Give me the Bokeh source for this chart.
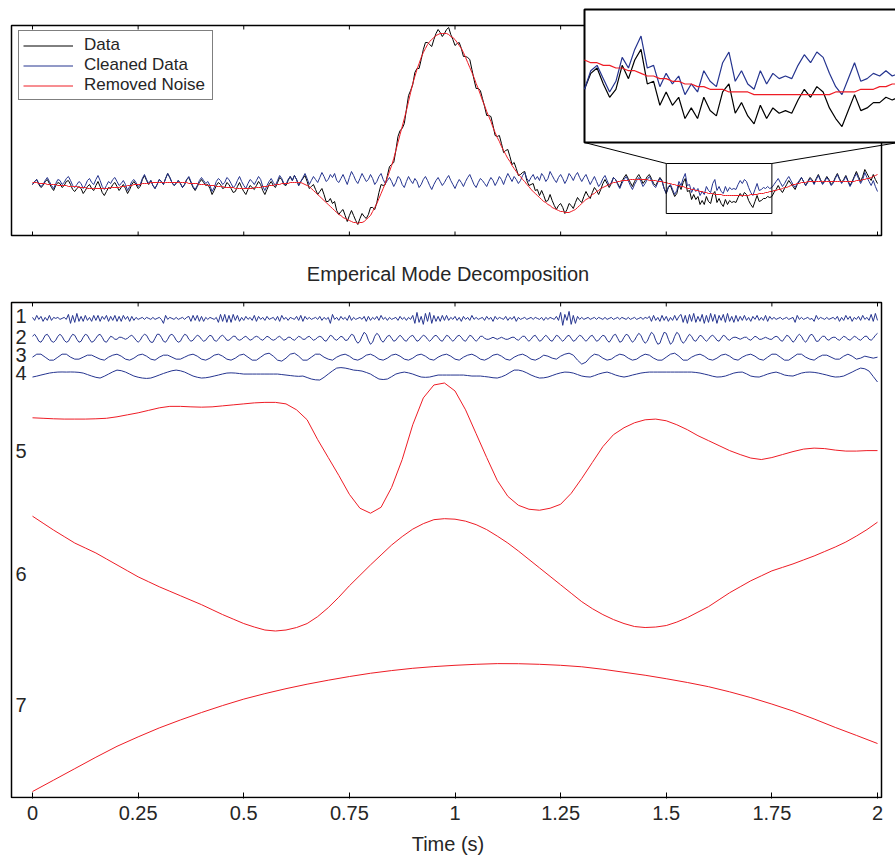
import numpy as np
from bokeh.plotting import figure
from bokeh.layouts import column
from bokeh.models import Legend, LegendItem, FixedTicker
from bokeh.embed import file_html
from bokeh.resources import INLINE
from bokeh.core.properties import value

FONT = "Liberation Sans"
BLUE = "#25348f"
RED = "#ee1c25"
INK = "#262626"

# ---------------- data (pixel-like units) ----------------
# smooth trend ("Removed Noise"), sampled every 0.005 s
TREND = [
    0, 0, 0, -1, -1, -1, -1, -2, -2, -2, -2, -2, -3, -3, -3, -3, -3, -4, -4, -4, -4,
    -4, -5, -5, -5, -5, -6, -6, -6, -6, -6, -6, -6, -6, -6, -6, -6, -5, -5, -5, -5,
    -5, -4, -4, -4, -3, -3, -3, -2, -2, -2, -2, -1, -1, -1, -1, 0, 0, 0, 0, 0,
    0, 0, 0, 0, 0, 0, 0, 0, 0, 0, 0, 0, 0, -1, -1, -1, -1, -1, -2, -2,
    -2, -2, -3, -3, -3, -3, -4, -4, -4, -4, -5, -5, -5, -5, -5, -6, -6, -6, -6, -6,
    -6, -6, -6, -6, -5, -5, -5, -5, -4, -4, -4, -3, -3, -3, -2, -2, -2, -1, -1, -1,
    -1, 0, 0, 0, 0, 0, 0, -1, -2, -3, -4, -6, -8, -10, -12, -14, -16, -18, -20, -22,
    -24, -26, -28, -30, -32, -33, -35, -36, -37, -38, -39, -40, -40, -41, -40, -40, -39, -37, -35, -33,
    -29, -25, -21, -16, -11, -6, -1, 5, 11, 17, 24, 32, 40, 48, 56, 64, 72, 81, 90, 99,
    106, 113, 119, 125, 130, 134, 138, 141, 143, 145, 147, 148, 149, 149, 149, 149, 148, 146, 145, 143,
    140, 137, 134, 130, 125, 120, 115, 110, 105, 99, 94, 88, 82, 77, 71, 66, 61, 55, 50, 45,
    41, 36, 32, 28, 24, 21, 17, 14, 11, 8, 6, 3, 1, -2, -4, -7, -9, -11, -13, -15,
    -17, -19, -20, -22, -23, -25, -26, -27, -28, -29, -29, -30, -30, -30, -29, -28, -27, -25, -23, -21,
    -19, -17, -16, -14, -12, -11, -9, -8, -6, -5, -4, -3, -2, -1, 0, 0, 1, 1, 2, 2,
    2, 2, 3, 3, 3, 3, 3, 3, 3, 3, 3, 2, 2, 2, 2, 1, 1, 1, 0, 0,
    -1, -1, -2, -2, -3, -3, -4, -4, -5, -6, -6, -7, -7, -8, -8, -9, -9, -10, -10, -11,
    -11, -11, -12, -12, -12, -12, -13, -13, -13, -13, -13, -13, -13, -13, -13, -13, -13, -13, -13, -12,
    -12, -12, -12, -11, -11, -11, -10, -10, -9, -9, -8, -8, -7, -7, -6, -5, -5, -4, -3, -2,
    -2, -1, -1, 0, 0, 0, 1, 1, 1, 1, 1, 1, 1, 1, 1, 1, 1, 1, 1, 1,
    1, 1, 1, 1, 1, 1, 1, 1, 1, 2, 2, 2, 3, 3, 4, 4, 5, 6, 7, 8,
]
# cleaned data (noise part), sampled every 0.005 s
CLEANED = [
    -2, 1, 3, -1, -4, -2, 2, 5, 1, -3, -6, -1, 3, 2, -2, 0, 4, 6, 2, -3,
    -5, -2, 1, -1, -6, -3, 2, 4, 0, -2, 3, 7, 2, -4, -7, -3, 1, -1, 3, 5,
    1, -3, -1, 2, -2, -8, -4, 1, 3, 0, -4, -2, 4, 8, 3, -1, 2, -3, -6, -2,
    3, 1, -2, 4, 9, 5, 0, -3, -1, 2, -1, -5, -2, 3, 6, 1, -4, -7, -3, 2,
    5, 2, -1, 1, -3, -9, -5, 1, 4, 2, -2, 0, 5, 3, -1, -5, -3, 2, 6, 1,
    -3, -6, -1, 3, 1, -2, 2, 6, 3, -4, -8, -3, 1, 4, 0, -3, 2, 7, 4, -1,
    -2, 3, 6, 2, 7, 3, -3, 1, 5, 9, 4, -2, 2, 6, 3, 0, 5, 10, 6, 1,
    3, 8, 5, 9, 2, 0, 4, 8, 3, -2, 5, 11, 7, 2, -1, 4, 9, 5, 1, 3,
    8, 4, -2, 1, 6, 9, 3, -1, 2, 5, 1, -4, 0, 6, 4, -2, -5, 1, 6, 2,
    -1, 4, 1, -5, -2, 3, 6, 2, -3, -7, -2, 2, 5, 1, -3, 0, 4, 7, 2, -2,
    -6, -1, 3, 0, -4, 1, 5, 8, 3, -2, -5, 0, 4, 2, -1, -4, 1, 5, 2, -3,
    1, 6, 3, -2, 4, 9, 5, 1, 6, 3, -1, 2, 7, 10, 4, 1, 5, 8, 3, 6,
    2, 9, 6, 1, 4, 11, 7, 3, 0, 5, 8, 4, -1, 3, 9, 6, 2, 7, 10, 5,
    1, 5, 8, 3, -2, 2, 6, 1, -4, -1, 4, 7, 2, -3, 0, 5, 3, -2, -6, -1,
    3, 6, 2, -3, -7, -2, 2, 5, 1, -4, -1, 3, 6, 2, -3, -5, 0, 4, 1, -6,
    -11, -4, -2, -7, -12, -8, 1, -3, 4, 9, -3, -2, -10, -5, -9, -6, -13, -9, -12, -4,
    -8, -10, -1, 3, -8, -4, -9, -11, -4, -9, -5, -7, -6, -7, -2, 2, -1, 3, 1, -5,
    -10, -13, -7, -1, -8, -7, -5, -6, -4, -6, -5,
    -2, 1, 4, 0, -4, -1, 3, 6, 2, -2, -5, -1, 2, 5, 1, -3, 0, 4, 2, -2,
    3, 7, 2, -2, 1, 5, 2, -3, -1, 4, 8, 3, -1, 2, 6, 1, -4, 0, 5, 9,
    4, -1, 3, 10, 5, 1, -3, 2, -4, -9,
]
# intrinsic mode functions
IMF1 = [  # every 0.005 s
    1, -2, 3, -1, 2, -3, 1, -2, 3, -2, 1, 0, 1, -1, 0, 1, -1, 4, -5, 3,
    -4, 5, -3, 2, -3, 3, -2, 1, -3, 3, -2, 3, -3, 2, -1, 3, -3, 2, -2, 3,
    -3, 2, -3, 3, -1, 2, -3, 2, -2, 1, -1, 0, 1, -1, 1, 0, -1, 1, -1, 0,
    1, -1, -5, 3, -1, 1, 0, -1, 1, -1, 0, 1, -1, 1, 2, -3, 3, -2, 3, -3,
    2, -3, 1, -1, 1, 0, -1, 1, -4, 4, -3, 4, -4, 3, -4, 4, -2, 3, -3, 1,
    -2, 2, -1, 1, -2, 3, -3, 2, -1, 1, -2, 2, -1, 0, 1, -2, 2, -3, 3, -1,
    1, -2, 1, 0, -1, 2, -2, 3, -3, 2, -1, 1, -1, 0, 1, -1, 2, -2, 1, -1,
    1, -5, 4, -1, 1, -2, 2, -1, 1, -2, 3, -2, 1, -1, 0, 1, -1, 2, -3, 2,
    -2, 1, -1, 2, -2, 3, -1, 1, -2, 1, -1, 0, 1, -2, 2, -1, 1, -2, 1, -1,
    3, -5, 6, -4, 2, -6, 5, -3, 6, -5, 3, -3, 2, -3, 3, -2, 3, -2, 1, -1,
    2, -2, 1, -3, 2, -1, 1, -2, 3, -1, 1, -1, 0, 1, -2, 2, -1, 1, -3, 2,
    -1, 1, 0, -1, 2, -2, 1, -1, 2, -3, 1, -1, 0, 1, -1, 0, 1, -1, 1, 0,
    -1, 1, -2, 1, -1, 1, 0, -1, 2, -2, 6, -7, 4, -2, 7, -6, 3, -5, 2, -1,
    1, -1, 0, 1, -1, 0, 1, -1, 1, 0, -1, 1, -1, 0, 1, -1, 0, 1, -1, 1,
    0, -1, 1, -1, 0, 1, -1, 0, 1, -1, 1, 0, 2, -3, 3, -2, 1, -3, 3, -2,
    2, -3, 1, -2, 3, -2, 2, 4, -4, 3, -5, 4, -3, 5, -4, 2, -3, 4, -5, 3,
    -4, 5, -3, 4, -5, 3, -2, 4, -4, 5, -3, 2, -4, 3, -3, 2, -2, 3, -2, 1,
    -3, 2, -1, 3, -2, 1, -2, 3, -3, 2, -1, 1, -1, 0, 1, -1, 0, 1, -1, 0,
    1, -4, 3, -1, 1, -1, 0, 1, -1, 0, -3, 3, -1, 1, 0, -1, 1, -1, 0, 1,
    -1, 2, -3, 1, -2, 3, -1, 2, -3, 1, -1, 2, -2, 3, -1, 1, -2, 4, -3, 5, -2,
]
IMF2 = [  # every 0.005 s
    2, 4, 1, -3, -4, -1, 3, 4, 1, -3, -4, -2, 2, 4, 2, -2, -4, -3, 1, 4,
    3, -1, -4, -3, 1, 4, 3, -1, -4, -3, 0, 3, 4, 1, -3, -4, -1, 2, 1, -1,
    -1, 1, 1, 0, -1, 0, 2, 3, 1, -2, -4, -2, 2, 4, 3, -1, -4, -4, 0, 4,
    4, 1, -3, -4, -1, 3, 4, 2, -2, -4, -3, 1, 4, 3, -1, -3, -2, 1, 3, 2,
    -1, -3, -2, 1, 3, 2, -2, -3, -1, 2, 3, 1, -2, -2, 0, 2, 2, -1, -2, -1,
    1, 2, 0, -2, -1, 1, 2, 1, -1, -2, 0, 2, 1, -1, -2, -1, 1, 2, 0, -2,
    -1, 1, 1, -1, -2, 0, 2, 1, -1, -1, 1, 2, 0, -2, -1, 1, 2, 1, -2, -3,
    0, 3, 2, -1, -2, 0, 2, 1, -2, -2, 1, 4, 3, -2, -5, -3, 2, 6, 4, -2,
    -6, -4, 2, 5, 3, -2, -4, -1, 2, 3, 0, -3, -2, 1, 3, 1, -2, -3, 0, 2,
    3, 0, -3, -2, 1, 3, 2, -1, -3, -1, 2, 3, 1, -2, -3, 0, 3, 2, -1, -3,
    -1, 2, 3, 1, -2, -3, 0, 3, 2, -1, -3, -1, 2, 2, 0, -1, -1, 0, 1, 0,
    -1, 0, 1, 0, -1, -1, 0, 1, 1, -1, -2, 0, 2, 2, -1, -3, -1, 2, 3, 0,
    -3, -2, 1, 3, 1, -2, -3, 0, 3, 2, -1, -3, -1, 2, 3, 0, -3, -2, 1, 3,
    2, -1, -3, -1, 2, 3, 0, -3, -2, 1, 3, 2, -2, -4, -1, 3, 4, 0, -4, -3,
    1, 4, 3, -1, -4, -2, 2, 5, 3, -2, -5, -3, 2, 6, 4, -2, -6, -5, 1, 6,
    5, -1, -6, -4, 2, 6, 4, -2, -5, -3, 1, 4, 2, -2, -3, 0, 3, 2, -1, -3,
    -1, 2, 3, 1, -2, -3, 0, 3, 2, -1, -2, 0, 1, 1, 0, -1, 0, 1, 1, -1,
    -2, 0, 2, 1, -1, -1, 0, 1, 0, -1, -1, 1, 2, 1, -2, -3, 0, 3, 2, -1,
    -4, -2, 2, 4, 2, -2, -4, -1, 3, 4, 1, -3, -3, 0, 2, 2, -1, -2, 0, 1,
    1, -1, -2, 0, 2, 1, -1, -2, 0, 2, 1, -1, -2, 0, 2, 2, -1, -2, 0, 3, 5,
]
IMF3 = [  # every 0.01 s
    0, 3, 3, 0, -3, -3, 0, 3, 3, 0, -2, -2, 0, 2, 2, 0, -2, -3, 0, 2,
    3, 1, -2, -3, -1, 2, 3, 1, -2, -3, 0, 2, 2, 0, -2, -2, 0, 2, 3, 1,
    -2, -3, -1, 2, 3, 1, -2, -3, -1, 2, 3, 0, -3, -3, 0, 3, 4, 1, -3, -4,
    -1, 3, 4, 1, -3, -3, 0, 3, 3, 0, -2, -3, 0, 2, 3, 1, -2, -3, -1, 2,
    3, 1, -2, -3, -1, 2, 3, 1, -2, -3, -1, 2, 3, 1, -2, -3, 0, 2, 3, 1,
    -2, -3, 0, 2, 3, 1, -2, -3, -1, 2, 3, 1, -2, -3, 0, 2, 3, 1, -2, -3,
    -1, 2, 1, -1, -2, 1, 3, 4, 2, -3, -7, -5, 0, 3, 2, -1, -3, -2, 1, 3,
    2, -1, -3, -2, 1, 3, 2, -1, -3, -3, 0, 3, 4, 1, -3, -3, 0, 2, 3, 1,
    -2, -3, -1, 2, 3, 1, -2, -3, 0, 2, 3, 1, -2, -3, 0, 3, 3, 0, -3, -3,
    0, 3, 3, 0, -2, -3, 0, 2, 2, 0, -2, -2, 1, 3, 1, -2, -1, 1, 0, -1,
    0,
]
IMF4 = [  # every 0.01 s
    -2, -1.1, 0, 1, 2, 2.6, 3, 3.1, 3, 3.1, 3, 2.7, 2, 0.5, -1, -2.3, -3, -1.2, 1, 3.2,
    5, 4.4, 3, 1, -1, -2.2, -3, -3.4, -3, -1.6, 0, 1.6, 3, 4.3, 5, 4.3, 3, 1, -1, -2.2,
    -3, -2.7, -2, -1, 0, 1.1, 2, 2.2, 2, 1.5, 1, 1, 1, 1, 1, 1, 1, 1, 1, 0.5,
    0, -0.5, -1, -1.3, -1, -2.5, -4, -4.8, -5, -2.3, 1, 4.2, 7, 7.5, 7, 6.1, 5, 4.6, 4, 2.6,
    1, -1.6, -4, -4.5, -4, -1.6, 1, 2.2, 3, 2.2, 1, -0.6, -2, -2.3, -2, -1, 0, 0, 0, 0,
    0, 0, 0, -0.5, -1, -1, -1, -1.5, -2, -2.7, -3, -1.8, 0, 2.6, 5, 5, 4, 2.2, 0, -1.7,
    -3, -2.8, -2, -0.5, 1, 2.2, 3, 2.8, 2, 0.5, -1, -1.7, -2, -0.6, 1, 2.2, 3, 1.7, 0, -1.2,
    -2, -1.2, 0, 1, 2, 2.6, 3, 3, 3, 3, 3, 3, 3, 3, 3, 3, 3, 2.6, 2, 1,
    0, -1.2, -2, -1.8, -1, 0.5, 2, 2.8, 3, 1.2, -1, -1.8, -2, -0.6, 1, 2.2, 3, 1.7, 0, -0.7,
    -1, 0.5, 2, 2.8, 3, 2.7, 2, 1, 0, -1.2, -2, -1.8, -1, 1, 3, 5.2, 7, 6.3, 4, -1.5,
    -7,
]
IMF5 = [  # every 0.025 s
    33, 32.5, 32, 31.7, 31.7, 31.7, 32, 32.5, 34, 36,
    38, 40.5, 43, 44.5, 44.5, 44, 43.7, 44, 45, 46,
    47, 48, 48.5, 48.5, 47, 41, 31, 11, -7, -25,
    -44, -58, -63, -57, -37, -9, 26, 53, 66, 68,
    60, 41, 17, -7, -30, -46, -55, -59, -60, -58,
    -54, -43, -28, -12, 4, 16, 23, 28, 31, 31.7,
    30, 26, 21, 15, 10, 5, 0, -4, -7.5, -9,
    -7, -4, -1, 1.5, 2.5, 2, 0.5, -0.5, -0.5, 0,
    0,
]
IMF6 = [  # every 0.025 s
    60, 53, 46, 39.5, 33, 28, 23, 17, 11, 5,
    -1, -6, -11, -15.5, -20, -24.5, -29, -34, -39, -43.5,
    -48, -51.5, -54.5, -55.5, -54.5, -52, -48, -41, -32, -21.5,
    -10, 0.5, 11, 21, 31, 39.5, 47, 52.5, 56.5, 57.5,
    57, 55, 51.5, 46.5, 40, 33, 25, 16.5, 8, -0.5,
    -9, -17.5, -26, -33, -39, -44, -48, -51, -52, -51.5,
    -50, -46.5, -42, -36.5, -31, -24, -17, -11, -5, 0,
    5, 8.5, 12, 16, 20, 24.5, 29, 34, 40, 46.5,
    54,
]
IMF7 = [  # every 0.05 s
    -87, -75.5, -64, -52.5, -41.5, -32, -23, -15, -7.5, -0.5,
    6, 11.5, 16.5, 21, 25, 28.7, 32, 34.7, 37, 38.7,
    40, 41, 41.7, 41.6, 41, 40, 38.5, 36, 33, 30,
    26.5, 22.7, 18.5, 13.3, 7.5, 1, -6, -14, -22.5, -30.5,
    -38.7,
]
IMF_NAMES = ["1", "2", "3", "4", "5", "6", "7"]
TICKS = [0, 0.25, 0.5, 0.75, 1, 1.25, 1.5, 1.75, 2]
TICK_LABELS = ["0", "0.25", "0.5", "0.75", "1", "1.25", "1.5", "1.75", "2"]
ZOOM_T = [1.5, 1.75]
ZOOM_V = [-31, 19]

# ---------------- layout constants ----------------
PXU = 422.5  # screen px per second
X_RANGE_FULL = (-32 / PXU, 863 / PXU)   # both frames span the full 895 px width
BOX_L, BOX_R = -21 / PXU, 849 / PXU     # drawn axes boxes
IMF_OFFSETS = [482, 462, 443, 425, 349, 223, 93]
LABEL_Y = [484, 463, 445, 427, 349, 225, 93]

cleaned = np.array(CLEANED, dtype=float)
trend = np.array(TREND, dtype=float)
n = min(len(cleaned), len(trend))
cleaned, trend = cleaned[:n], trend[:n]
data = cleaned + trend
t_top = np.linspace(0, 2, n)
nt = len(TICKS)

# ---------------- top panel (frame = whole canvas) ----------------
top = figure(width=895, height=238, x_range=X_RANGE_FULL, y_range=(-56, 182),
             x_axis_location=None, y_axis_location=None, toolbar_location=None,
             output_backend="svg", min_border_left=0, min_border_right=0,
             min_border_top=0, min_border_bottom=0, outline_line_color=None)
top.grid.visible = False

r_data = top.line(t_top, data, line_color="black", line_width=1)
r_clean = top.line(t_top, cleaned, line_color=BLUE, line_width=1)
r_trend = top.line(t_top, trend, line_color=RED, line_width=1)

TB_B, TB_T = -53, 157
top.quad(left=[BOX_L], right=[BOX_R], bottom=[TB_B], top=[TB_T],
         fill_color=None, line_color="black", line_width=1.5)
top.segment(x0=TICKS, y0=[TB_B] * nt, x1=TICKS, y1=[TB_B + 4] * nt, line_color="black", line_width=1)
top.segment(x0=TICKS, y0=[TB_T] * nt, x1=TICKS, y1=[TB_T - 4] * nt, line_color="black", line_width=1)

# zoom box + connectors + inset
top.quad(left=[ZOOM_T[0]], right=[ZOOM_T[1]], bottom=[ZOOM_V[0]], top=[ZOOM_V[1]],
         fill_color=None, line_color="black", line_width=1)
IN_L, IN_R, IN_B, IN_T = 552 / PXU, 866 / PXU, 40, 173
top.segment(x0=[IN_L, IN_R], y0=[IN_B, IN_B], x1=[ZOOM_T[0], ZOOM_T[1]], y1=[ZOOM_V[1], ZOOM_V[1]],
            line_color="black", line_width=1)
top.quad(left=[IN_L], right=[IN_R], bottom=[IN_B], top=[IN_T],
         fill_color="white", line_color="black", line_width=2)
sx = (IN_R - IN_L) / (ZOOM_T[1] - ZOOM_T[0])
sy = (IN_T - IN_B) / (ZOOM_V[1] - ZOOM_V[0])
m = (t_top >= ZOOM_T[0] - 1e-9) & (t_top <= ZOOM_T[1] + 1e-9)
ix = IN_L + (t_top[m] - ZOOM_T[0]) * sx


def iy(v):
    return IN_B + (v - ZOOM_V[0]) * sy


top.line(ix, iy(data[m]), line_color="black", line_width=1.2)
top.line(ix, iy(cleaned[m]), line_color=BLUE, line_width=1.2)
top.line(ix, iy(trend[m]), line_color=RED, line_width=1.2)

legend = Legend(items=[LegendItem(label="Data", renderers=[r_data]),
                       LegendItem(label="Cleaned Data", renderers=[r_clean]),
                       LegendItem(label="Removed Noise", renderers=[r_trend])],
                location=(18, 138), orientation="vertical",
                border_line_color="black", border_line_width=1.5,
                background_fill_color="white", background_fill_alpha=1,
                padding=4, spacing=0, margin=0,
                glyph_width=50, glyph_height=19, label_height=19, label_width=124,
                label_standoff=11, label_text_font=FONT, label_text_font_size="17px",
                label_text_color=INK)
top.add_layout(legend)

# ---------------- bottom panel (frame spans full width; box drawn) ----------------
bot = figure(width=895, height=619, x_range=X_RANGE_FULL, y_range=(-1, 500),
             y_axis_location=None, toolbar_location=None, output_backend="svg",
             min_border_left=0, min_border_right=0, min_border_top=62, min_border_bottom=56,
             outline_line_color=None)
bot.grid.grid_line_color = None

bot.quad(left=[BOX_L], right=[BOX_R], bottom=[0], top=[498],
         fill_color=None, line_color="black", line_width=1.5)
bot.segment(x0=TICKS, y0=[498] * nt, x1=TICKS, y1=[494] * nt, line_color="black", line_width=1)

xa = bot.xaxis[0]
xa.ticker = FixedTicker(ticks=TICKS)
xa.major_label_overrides = {t: lab for t, lab in zip(TICKS, TICK_LABELS)}
xa.major_tick_in = 6
xa.major_tick_out = 0
xa.minor_tick_line_color = None
xa.axis_line_color = None
xa.major_tick_line_color = "black"
xa.major_label_standoff = 7
xa.major_label_text_font = FONT
xa.major_label_text_font_size = "20px"
xa.major_label_text_color = INK
xa.axis_label = "Time (s)"
xa.axis_label_standoff = 10
xa.axis_label_text_font = FONT
xa.axis_label_text_font_size = "20px"
xa.axis_label_text_font_style = "normal"
xa.axis_label_text_color = INK

bot.title.text = "Emperical Mode Decomposition"
bot.title.align = "center"
bot.title.text_font = FONT
bot.title.text_font_size = "20px"
bot.title.text_font_style = "normal"
bot.title.text_color = INK
bot.title.standoff = 31

imfs = [IMF1, IMF2, IMF3, IMF4, IMF5, IMF6, IMF7]
for k, (vals, off) in enumerate(zip(imfs, IMF_OFFSETS)):
    v = np.array(vals, dtype=float)
    tt = np.linspace(0, 2, len(v))
    bot.line(tt, v + off, line_color=BLUE if k < 4 else RED, line_width=1)

LABEL_X = -17 / PXU
bot.text(x=[LABEL_X] * len(IMF_NAMES), y=LABEL_Y, text=IMF_NAMES,
         text_font=value(FONT), text_font_size="20px", text_color=INK,
         text_baseline="middle", text_align="left")

layout = column(top, bot)
open("out.html", "w").write(file_html(layout, INLINE, title="EMD"))
